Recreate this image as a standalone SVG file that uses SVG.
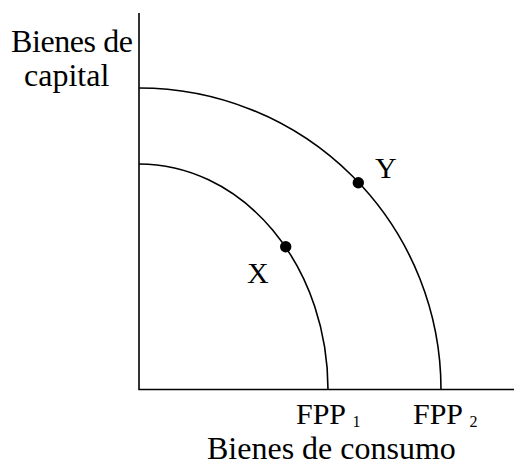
<svg xmlns="http://www.w3.org/2000/svg" width="514" height="466" viewBox="0 0 514 466">
<style>
text{font-family:"Liberation Serif","Times New Roman",serif;fill:#000}
.lbl{font-size:32px}
.pt{font-size:30px}
.fpp{font-size:30px}
.sub{font-size:16px}
.ax{stroke:#000;stroke-width:1.6;fill:none}
.crv{stroke:#000;stroke-width:1.6;fill:none}
</style>
<rect width="514" height="466" fill="#fff"/>
<g id="connectors">
<path class="ax" d="M139,13 V389.5 H514"/>
</g>
<g id="fpp2">
<path class="crv" d="M139,88 A302,301.5 0 0 1 441,389.5"/>
</g>
<g id="fpp1">
<path class="crv" d="M139,164 A189,225.5 0 0 1 328,389.5"/>
</g>
<g id="pointY">
<circle cx="358.3" cy="182.7" r="5.7"/>
<text class="pt" x="375" y="178">Y</text>
</g>
<g id="pointX">
<circle cx="285.7" cy="246.7" r="5.7"/>
<text class="pt" x="247" y="283">X</text>
</g>
<g id="ylabel">
<text class="lbl" x="11" y="52" textLength="122">Bienes de</text>
<text class="lbl" x="24" y="86">capital</text>
</g>
<g id="xlabel">
<text class="fpp" x="296" y="424">FPP <tspan class="sub" dy="2.5">1</tspan></text>
<text class="fpp" x="413" y="424">FPP <tspan class="sub" dy="2.5">2</tspan></text>
<text class="lbl" x="207" y="459">Bienes de consumo</text>
</g>
</svg>
